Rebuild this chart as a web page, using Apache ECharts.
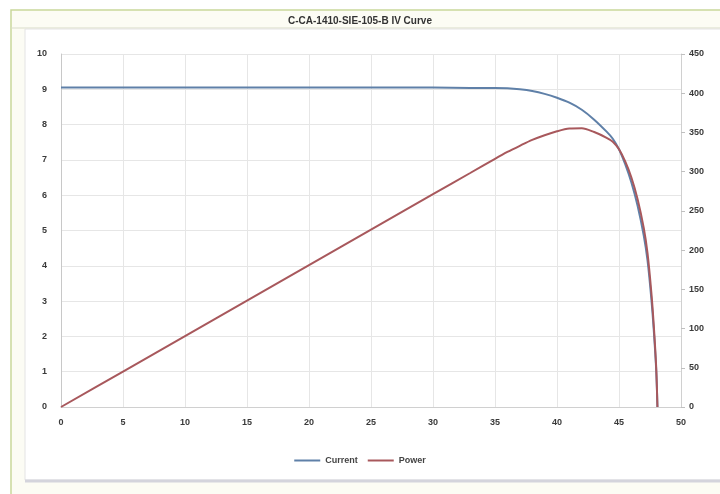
<!DOCTYPE html>
<html>
<head>
<meta charset="utf-8">
<style>html,body{margin:0;padding:0;background:#fff;}#c{width:720px;height:494px;}</style>
<script src="https://cdn.jsdelivr.net/npm/echarts@6/dist/echarts.min.js"></script>
</head>
<body>
<div id="c"></div>
<script>
const titleText = 'C-CA-1410-SIE-105-B IV Curve';
const voltage = [0, 5, 10, 15, 20, 25, 30, 33, 35, 36, 37, 38, 39, 40, 41, 42, 43, 44, 44.5, 45, 45.5, 46, 46.5, 47, 47.3, 47.6, 47.8, 48.0, 48.1];
const current = [9.05, 9.05, 9.05, 9.05, 9.05, 9.05, 9.05, 9.04, 9.04, 9.03, 9.00, 8.95, 8.87, 8.76, 8.62, 8.42, 8.14, 7.80, 7.60, 7.30, 6.88, 6.36, 5.70, 4.85, 4.15, 3.10, 2.20, 1.05, 0];
const power   = [0, 45.2, 90.5, 135.7, 181, 226.2, 271.5, 298.3, 316.4, 325.1, 333, 340.5, 346.5, 351.5, 355, 355.5, 350.5, 343.2, 338.2, 328.5, 313, 292.6, 265, 228, 196.3, 147.6, 105.2, 50.4, 0];
const xTicks = {min: 0, max: 50, interval: 5};
const leftTicks = {min: 0, max: 10, interval: 1};
const rightTicks = {min: 0, max: 450, interval: 50};

const chart = echarts.init(document.getElementById('c'), null, {renderer: 'canvas'});
const font = 'Liberation Sans';
const lab = {color: '#3a3a3a', fontSize: 9, fontFamily: font, fontWeight: 'bold'};
chart.setOption({
  animation: false,
  backgroundColor: '#ffffff',
  graphic: [
    {type: 'rect', shape: {x: 11, y: 10, width: 720, height: 490}, style: {fill: '#fcfcf4', stroke: '#c9d79a', lineWidth: 1.5}, z: -10},
    {type: 'line', shape: {x1: 11, y1: 28, x2: 720, y2: 28}, style: {stroke: '#d9dcc8', lineWidth: 1}, z: -9},
    {type: 'rect', shape: {x: 25, y: 29, width: 700, height: 451}, style: {fill: '#ffffff', stroke: '#e4e4e4', lineWidth: 1}, z: -9},
    {type: 'line', shape: {x1: 25, y1: 481, x2: 720, y2: 481}, style: {stroke: '#d4d4dc', lineWidth: 3}, z: -8}
  ],
  title: {
    text: titleText, left: 355, top: 11, textAlign: 'center',
    textStyle: {fontSize: 10, fontWeight: 'bold', color: '#333', fontFamily: font}
  },
  legend: {
    data: ['Current', 'Power'], left: 'center', top: 451, itemWidth: 26, itemHeight: 2, itemGap: 10,
    icon: 'rect',
    textStyle: {fontSize: 9, color: '#444', fontFamily: font, fontWeight: 'bold'}
  },
  grid: {left: 61, right: 39, top: 54, bottom: 87, containLabel: false},
  xAxis: {
    type: 'value', min: xTicks.min, max: xTicks.max, interval: xTicks.interval,
    axisLine: {show: true, lineStyle: {color: '#d0d0d0'}},
    axisTick: {show: false},
    axisLabel: Object.assign({margin: 11}, lab),
    splitLine: {show: true, lineStyle: {color: '#e6e6e6'}}
  },
  yAxis: [
    {
      type: 'value', min: leftTicks.min, max: leftTicks.max, interval: leftTicks.interval,
      axisLine: {show: true, lineStyle: {color: '#c8c8c8'}},
      axisTick: {show: false},
      axisLabel: Object.assign({margin: 14}, lab),
      splitLine: {show: true, lineStyle: {color: '#e6e6e6'}}
    },
    {
      type: 'value', min: rightTicks.min, max: rightTicks.max, interval: rightTicks.interval,
      position: 'right',
      axisLine: {show: true, lineStyle: {color: '#d0d0d0'}},
      axisTick: {show: true, length: 4, lineStyle: {color: '#c0c0c0'}},
      axisLabel: Object.assign({margin: 8}, lab),
      splitLine: {show: false}
    }
  ],
  series: [
    {
      name: 'Current', type: 'line', yAxisIndex: 0, smooth: 0.3, showSymbol: false,
      lineStyle: {color: '#5f80a8', width: 2}, itemStyle: {color: '#5f80a8'},
      data: voltage.map((v, i) => [v, current[i]])
    },
    {
      name: 'Power', type: 'line', yAxisIndex: 1, smooth: 0.3, showSymbol: false,
      lineStyle: {color: '#a8585c', width: 2}, itemStyle: {color: '#a8585c'},
      data: voltage.map((v, i) => [v, power[i]])
    }
  ]
});
</script>
</body>
</html>
